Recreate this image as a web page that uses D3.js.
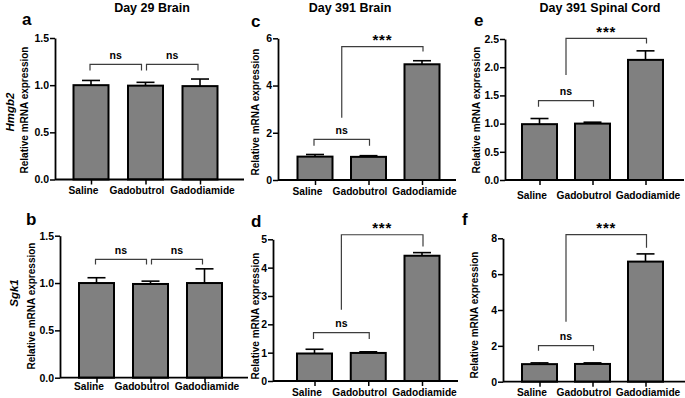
<!DOCTYPE html>
<html><head><meta charset="utf-8">
<script src="https://cdn.jsdelivr.net/npm/d3@7"></script>
<style>
body{margin:0;background:#fff}
svg{display:block}
text{font-family:"Liberation Sans",Arial,Helvetica,sans-serif}
</style>
</head><body>
<svg id="chart" width="685" height="398"></svg>
<script>
// ---------- data ----------
const categories = ["Saline", "Gadobutrol", "Gadodiamide"];
const columnTitles = ["Day 29 Brain", "Day 391 Brain", "Day 391 Spinal Cord"];
const geneNames = ["Hmgb2", "Sgk1"];
const yLabelText = "Relative mRNA expression";
const panelLetters = ["a", "b", "c", "d", "e", "f"];

// panel a: Day 29 Brain, Hmgb2
const meanA = [1.0, 0.995, 0.99];
const semA  = [0.05, 0.035, 0.075];
const ticksA = [0, 0.5, 1.0, 1.5];
// panel b: Day 29 Brain, Sgk1
const meanB = [1.0, 0.99, 1.0];
const semB  = [0.056, 0.03, 0.15];
const ticksB = [0, 0.5, 1.0, 1.5];
// panel c: Day 391 Brain, Hmgb2
const meanC = [0.99, 0.98, 4.9];
const semC  = [0.09, 0.05, 0.15];
const ticksC = [0, 2, 4, 6];
// panel d: Day 391 Brain, Sgk1
const meanD = [0.97, 0.99, 4.42];
const semD  = [0.15, 0.04, 0.11];
const ticksD = [0, 1, 2, 3, 4, 5];
// panel e: Day 391 Spinal Cord, Hmgb2
const meanE = [0.99, 1.0, 2.13];
const semE  = [0.1, 0.025, 0.16];
const ticksE = [0, 0.5, 1.0, 1.5, 2.0, 2.5];
// panel f: Day 391 Spinal Cord, Sgk1
const meanF = [0.98, 0.99, 6.7];
const semF  = [0.07, 0.06, 0.43];
const ticksF = [0, 2, 4, 6, 8];

// significance annotations (y in data units)
const sigA = [{type:"ns", from:0, to:1, top:1.22, foot:1.155}, {type:"ns2", from:1, to:2, top:1.22, foot:1.155}];
const sigB = [{type:"ns", from:0, to:1, top:1.25, foot:1.197}, {type:"ns2", from:1, to:2, top:1.25, foot:1.197}];
const sigC = [{type:"single", from:0, to:1, top:1.72, foot:1.45}, {type:"star", to:2, top:5.65, footL:2.64, footR:5.44}];
const sigD = [{type:"single", from:0, to:1, top:1.71, foot:1.48}, {type:"star", to:2, top:5.16, footL:2.51, footR:4.75}];
const sigE = [{type:"single", from:0, to:1, top:1.406, foot:1.30}, {type:"star", to:2, top:2.51, footL:1.86, footR:2.42}];
const sigF = [{type:"single", from:0, to:1, top:2.01, foot:1.73}, {type:"star", to:2, top:8.2, footL:3.35, footR:7.47}];

// ---------- layout ----------
const panels = [
  {id:"a", mean:meanA, sem:semA, ticks:ticksA, fmt:".1f", sig:sigA, ax:55,  top:38,    bot:179.5, c0:91,    c2:200,   end:244, lab:194,
   letter:[22,25],  ylab:[28,110]},
  {id:"b", mean:meanB, sem:semB, ticks:ticksB, fmt:".1f", sig:sigB, ax:60,  top:235.7, bot:377.7, c0:96.5,  c2:204.5, end:248, lab:390,
   letter:[26,225], ylab:[35,306]},
  {id:"c", mean:meanC, sem:semC, ticks:ticksC, fmt:"d",   sig:sigC, ax:278, top:38.3,  bot:180,   c0:315,   c2:422,   end:456, lab:194.5,
   letter:[251,27], ylab:[259,112]},
  {id:"d", mean:meanD, sem:semD, ticks:ticksD, fmt:"d",   sig:sigD, ax:273, top:239.3, bot:381,   c0:314.5, c2:422,   end:458, lab:396,
   letter:[251,227], ylab:[259,316]},
  {id:"e", mean:meanE, sem:semE, ticks:ticksE, fmt:".1f", sig:sigE, ax:505, top:39,    bot:180,   c0:539.5, c2:645.5, end:684, lab:199,
   letter:[474,26], ylab:[480,110]},
  {id:"f", mean:meanF, sem:semF, ticks:ticksF, fmt:"d",   sig:sigF, ax:503, top:238.3, bot:381.7, c0:539.5, c2:645.5, end:685, lab:396,
   letter:[462,225], ylab:[478,315]}
];
const titlePos = [[152,12],[350,12],[600,12]];
const genePos = [[14,112],[18,293]];
const labelDx = [-8, -9, 2];
const barW = 35, capHalf = 9;
const bracketColor = "#3d3d3d";

const svg = d3.select("#chart");

// column titles
svg.selectAll("text.title").data(columnTitles).join("text")
  .attr("class","title")
  .attr("x",(d,i)=>titlePos[i][0]).attr("y",(d,i)=>titlePos[i][1])
  .attr("text-anchor","middle").attr("font-size",12.5).attr("font-weight","bold")
  .text(d=>d);

// gene labels
svg.selectAll("text.gene").data(geneNames).join("text")
  .attr("class","gene")
  .attr("transform",(d,i)=>`translate(${genePos[i][0]},${genePos[i][1]}) rotate(-90)`)
  .attr("text-anchor","middle")
  .attr("font-size",11.5).attr("font-weight","bold").attr("font-style","italic")
  .text(d=>d);

panels.forEach((p, pi) => {
  const g = svg.append("g");
  const x = d3.scalePoint().domain(categories).range([p.c0, p.c2]);
  const y = d3.scaleLinear().domain([0, d3.max(p.ticks)]).range([p.bot, p.top]);

  // panel letter
  g.append("text").attr("x",p.letter[0]).attr("y",p.letter[1])
    .attr("font-size",17).attr("font-weight","bold").text(panelLetters[pi]);

  // y label
  g.append("text")
    .attr("transform",`translate(${p.ylab[0]},${p.ylab[1]}) rotate(-90)`)
    .attr("text-anchor","middle")
    .attr("font-size",10).attr("font-weight","bold").text(yLabelText);

  // bars
  const rows = categories.map((c,i)=>({cat:c, mean:p.mean[i], sem:p.sem[i]}));
  g.selectAll("rect.bar").data(rows).join("rect")
    .attr("x",d=>x(d.cat)-barW/2).attr("width",barW)
    .attr("y",d=>y(d.mean)).attr("height",d=>y(0)-y(d.mean))
    .attr("fill","#808080").attr("stroke","#000").attr("stroke-width",2);

  // error bars
  const eb = g.selectAll("g.err").data(rows).join("g");
  eb.append("line").attr("x1",d=>x(d.cat)).attr("x2",d=>x(d.cat))
    .attr("y1",d=>y(d.mean)).attr("y2",d=>y(d.mean+d.sem))
    .attr("stroke","#000").attr("stroke-width",1.6);
  eb.append("line").attr("x1",d=>x(d.cat)-capHalf).attr("x2",d=>x(d.cat)+capHalf)
    .attr("y1",d=>y(d.mean+d.sem)).attr("y2",d=>y(d.mean+d.sem))
    .attr("stroke","#000").attr("stroke-width",1.6);

  // y axis
  const yAxis = d3.axisLeft(y).tickValues(p.ticks).tickSize(5).tickSizeOuter(0).tickPadding(1)
    .tickFormat(d3.format(p.fmt));
  const ya = g.append("g").attr("transform",`translate(${p.ax},0)`).call(yAxis);
  ya.select(".domain").attr("stroke","#000").attr("stroke-width",1.8);
  ya.selectAll(".tick line").attr("stroke","#000").attr("stroke-width",1.5);
  ya.selectAll(".tick text").attr("font-size",10.5).attr("font-weight","bold")
    .attr("font-family","'Liberation Sans',Arial,sans-serif").attr("fill","#000");

  // x axis line
  g.append("line").attr("x1",p.ax).attr("x2",p.end).attr("y1",y(0)).attr("y2",y(0))
    .attr("stroke","#000").attr("stroke-width",1.8);
  const xAxis = d3.axisBottom(x).tickSize(5).tickSizeOuter(0);
  const xa = g.append("g").attr("transform",`translate(0,${y(0)})`).call(xAxis);
  xa.select(".domain").remove();
  xa.selectAll(".tick line").attr("stroke","#000").attr("stroke-width",1.5);
  xa.selectAll(".tick text")
    .attr("y", p.lab - y(0)).attr("dy",0)
    .attr("dx",(d,i)=>labelDx[i])
    .attr("font-size",10.2).attr("font-weight","bold")
    .attr("font-family","'Liberation Sans',Arial,sans-serif").attr("fill","#000");

  // significance brackets
  let nsMid = null;
  p.sig.forEach(s => {
    if (s.type === "star") {
      const xl = nsMid, xr = x(categories[s.to]) + 1;
      g.append("path")
        .attr("d",`M${xl},${y(s.footL)}V${y(s.top)}H${xr}V${y(s.footR)}`)
        .attr("fill","none").attr("stroke",bracketColor).attr("stroke-width",1.2);
      g.append("text").attr("x",(xl+xr)/2).attr("y",y(s.top)-1.5)
        .attr("text-anchor","middle").attr("font-size",15).attr("font-weight","bold")
        .attr("letter-spacing",0.8)
        .text("***");
    } else {
      let x1, x2;
      if (s.type === "ns") { x1 = x(categories[s.from]) - 1; x2 = x(categories[s.to]) - 4; }
      else if (s.type === "ns2") { x1 = x(categories[s.from]) + 1; x2 = x(categories[s.to]) - 2; }
      else { x1 = x(categories[s.from]) - 1; x2 = x(categories[s.to]) + 1; }
      g.append("path")
        .attr("d",`M${x1},${y(s.foot)}V${y(s.top)}H${x2}V${y(s.foot)}`)
        .attr("fill","none").attr("stroke",bracketColor).attr("stroke-width",1.2);
      g.append("text").attr("x",(x1+x2)/2).attr("y",y(s.top)-5.5)
        .attr("text-anchor","middle").attr("font-size",10.5).attr("font-weight","bold")
        .text("ns");
      nsMid = (x1+x2)/2;
    }
  });
});
</script>
</body></html>
